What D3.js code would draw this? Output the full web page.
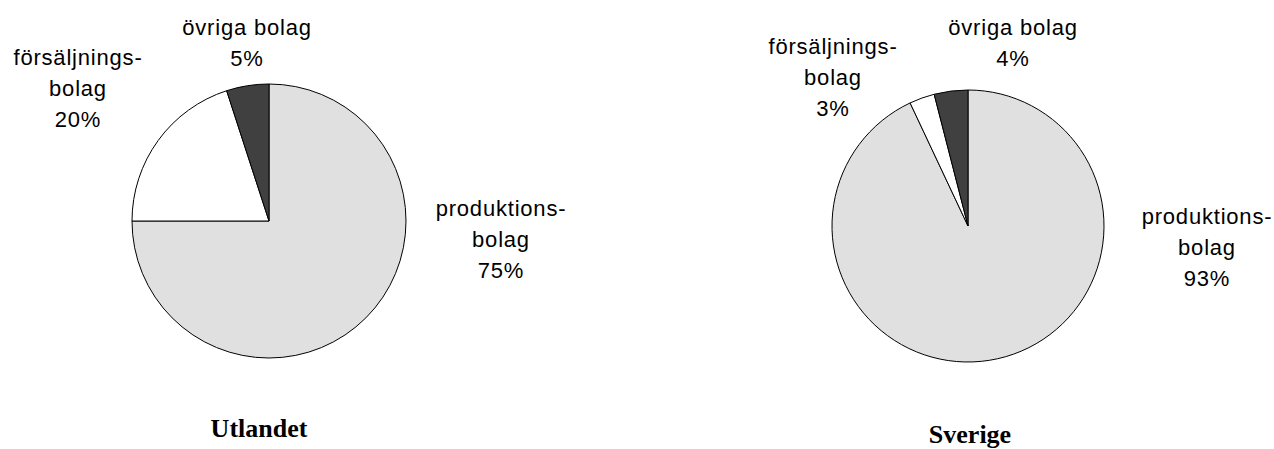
<!DOCTYPE html>
<meta charset="utf-8">
<style>
	body { margin: 0; background: #fff; }
	svg { display: block; }
	.slice { stroke: #000; stroke-width: 1px; }
	.lbl { font: 22px "Liberation Sans", Arial, sans-serif; fill: #000; letter-spacing: 0.8px; }
	.title { font: bold 26px "Liberation Serif", "Times New Roman", serif; fill: #000; }
</style>
<body>
<script src="https://cdn.jsdelivr.net/npm/d3@7"></script>
<script>

// categories, clockwise from 12 o'clock
var categories = ["produktionsbolag", "försäljningsbolag", "övriga bolag"];
var labelLines = [["produktions-", "bolag"], ["försäljnings-", "bolag"], ["övriga bolag"]];
var utlandet = [75, 20, 5];
var sverige = [93, 3, 4];
var titles = ["Utlandet", "Sverige"];

var colors = ["#e0e0e0", "#ffffff", "#404040"];

var width = 1274, height = 449;

// pie layout: centre, radius, label anchors (offset from centre), title baseline
var pies = [
	{ values: utlandet, title: titles[0], cx: 269, cy: 221, r: 137, titleX: 259, titleY: 437,
	  labels: [[232, -13], [-191, -164], [-22, -194]] },
	{ values: sverige, title: titles[1], cx: 968, cy: 226, r: 136, titleX: 970, titleY: 443,
	  labels: [[239, -10], [-135, -180], [45, -199]] }
];

var lineH = 31;

var svg = d3.select("body").append("svg")
		.attr("width", width)
		.attr("height", height);

var pie = d3.pie().sort(null).value(function(d) { return d; });

pies.forEach(function(p) {
	var g = svg.append("g").attr("transform", "translate(" + p.cx + "," + p.cy + ")");
	var arc = d3.arc().innerRadius(0).outerRadius(p.r);

	g.selectAll("path")
		.data(pie(p.values))
		.enter().append("path")
		.attr("class", "slice")
		.attr("fill", function(d, i) { return colors[i]; })
		.attr("d", arc);

	// labels
	p.values.forEach(function(v, i) {
		var lines = labelLines[i].concat([v + "%"]);
		var t = g.append("text")
			.attr("class", "lbl")
			.attr("text-anchor", "middle")
			.attr("x", p.labels[i][0])
			.attr("y", p.labels[i][1]);
		lines.forEach(function(s, k) {
			t.append("tspan")
				.attr("x", p.labels[i][0])
				.attr("y", p.labels[i][1] + k * lineH)
				.attr("dominant-baseline", "central")
				.text(s);
		});
	});

	svg.append("text")
		.attr("class", "title")
		.attr("text-anchor", "middle")
		.attr("x", p.titleX)
		.attr("y", p.titleY)
		.text(p.title);
});

</script>
</body>
